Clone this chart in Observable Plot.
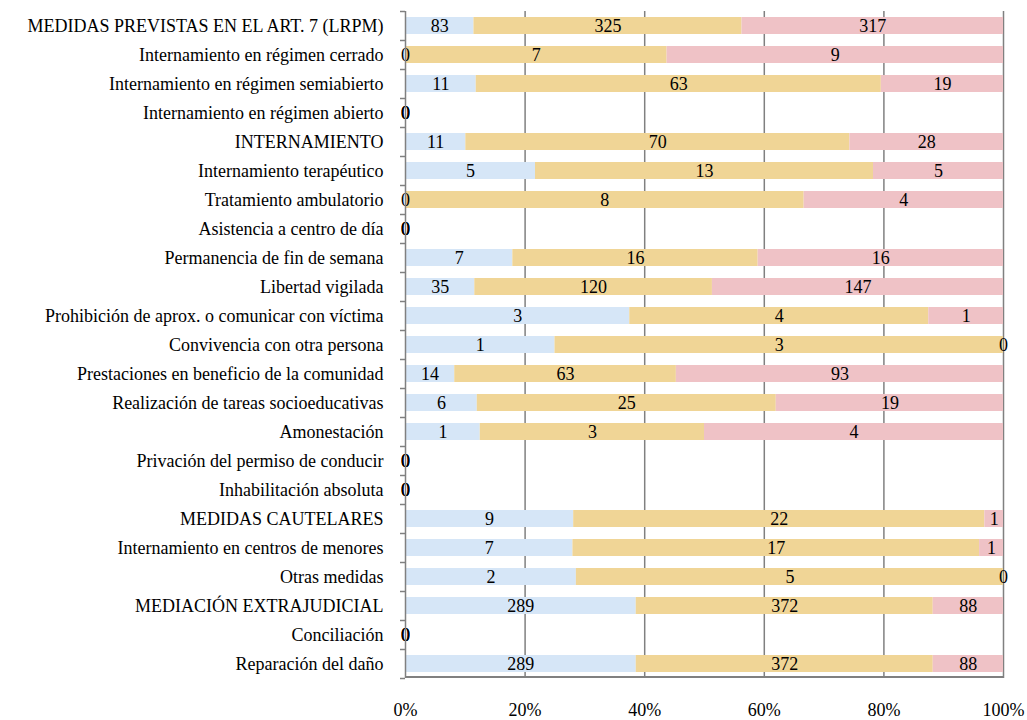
<!DOCTYPE html>
<html><head><meta charset="utf-8">
<script src="https://cdn.jsdelivr.net/npm/d3@7"></script>
<script src="https://cdn.jsdelivr.net/npm/@observablehq/plot@0.6"></script>
<style>body{margin:0;background:#fff}</style>
</head><body><div id="chart"></div>
<script>
const categories = [
  "MEDIDAS PREVISTAS EN EL ART. 7 (LRPM)",
  "Internamiento en régimen cerrado",
  "Internamiento en régimen semiabierto",
  "Internamiento en régimen abierto",
  "INTERNAMIENTO",
  "Internamiento terapéutico",
  "Tratamiento ambulatorio",
  "Asistencia a centro de día",
  "Permanencia de fin de semana",
  "Libertad vigilada",
  "Prohibición de aprox. o comunicar con víctima",
  "Convivencia con otra persona",
  "Prestaciones en beneficio de la comunidad",
  "Realización de tareas socioeducativas",
  "Amonestación",
  "Privación del permiso de conducir",
  "Inhabilitación absoluta",
  "MEDIDAS CAUTELARES",
  "Internamiento en centros de menores",
  "Otras medidas",
  "MEDIACIÓN EXTRAJUDICIAL",
  "Conciliación",
  "Reparación del daño"
];
const seriesNames = ["Serie 1", "Serie 2", "Serie 3"];
const serie1 = [83, 0, 11, 0, 11, 5, 0, 0, 7, 35, 3, 1, 14, 6, 1, 0, 0, 9, 7, 2, 289, 0, 289];
const serie2 = [325, 7, 63, 0, 70, 13, 8, 0, 16, 120, 4, 3, 63, 25, 3, 0, 0, 22, 17, 5, 372, 0, 372];
const serie3 = [317, 9, 19, 0, 28, 5, 4, 0, 16, 147, 1, 0, 93, 19, 4, 0, 0, 1, 1, 0, 88, 0, 88];
const xTicks = [0, 0.2, 0.4, 0.6, 0.8, 1];
const colors = ["#d6e6f7", "#f0d596", "#efc2c6"];

const rows = [];
categories.forEach((c, i) => {
  const vals = [serie1[i], serie2[i], serie3[i]];
  const total = d3.sum(vals);
  vals.forEach((v, j) => rows.push({cat: c, serie: seriesNames[j], value: v, frac: total ? v / total : 0}));
});

const band = 29;
const lastCat = categories[categories.length - 1];
const chart = Plot.plot({
  width: 1027, height: 720,
  marginLeft: 405, marginRight: 24, marginTop: 11, marginBottom: 42,
  style: {fontFamily: "'Liberation Serif', 'Times New Roman', serif", fontSize: "18px", color: "#000", background: "#fff"},
  x: {domain: [0, 1], label: null},
  y: {domain: categories, padding: 0, round: false, label: null},
  color: {domain: seriesNames, range: colors},
  marks: [
    Plot.ruleX(xTicks.slice(1), {stroke: "#808080", strokeWidth: 1.5, strokeOpacity: 1}),
    Plot.barX(rows, Plot.stackX({x: "frac", y: "cat", fill: "serie", insetTop: 6, insetBottom: 6})),
    Plot.text(rows, Plot.stackX({x: "frac", y: "cat", z: "serie", text: d => String(d.value), fill: "#000", fontSize: 18})),
    Plot.ruleX([0], {stroke: "#808080", strokeWidth: 1.5, strokeOpacity: 1}),
    // left tick marks at band boundaries
    Plot.axisY({tickSize: 5, tickFormat: () => "", dy: -band / 2, stroke: "#808080", strokeWidth: 1.5, strokeOpacity: 1, label: null}),
    Plot.axisY([lastCat], {tickSize: 5, tickFormat: () => "", dy: band / 2, stroke: "#808080", strokeWidth: 1.5, strokeOpacity: 1, label: null}),
    // bottom axis line
    Plot.barX([lastCat], {y: d => d, x1: 0, x2: 1, insetTop: band - 2, fill: "#808080"}),
    Plot.axisX({ticks: xTicks, tickSize: 0, tickPadding: 25, tickFormat: d3.format(".0%"), fontSize: 18, label: null}),
    Plot.axisY({tickSize: 0, tickPadding: 22, fontSize: 18, label: null})
  ]
});
document.getElementById("chart").appendChild(chart);
</script>
</body></html>
